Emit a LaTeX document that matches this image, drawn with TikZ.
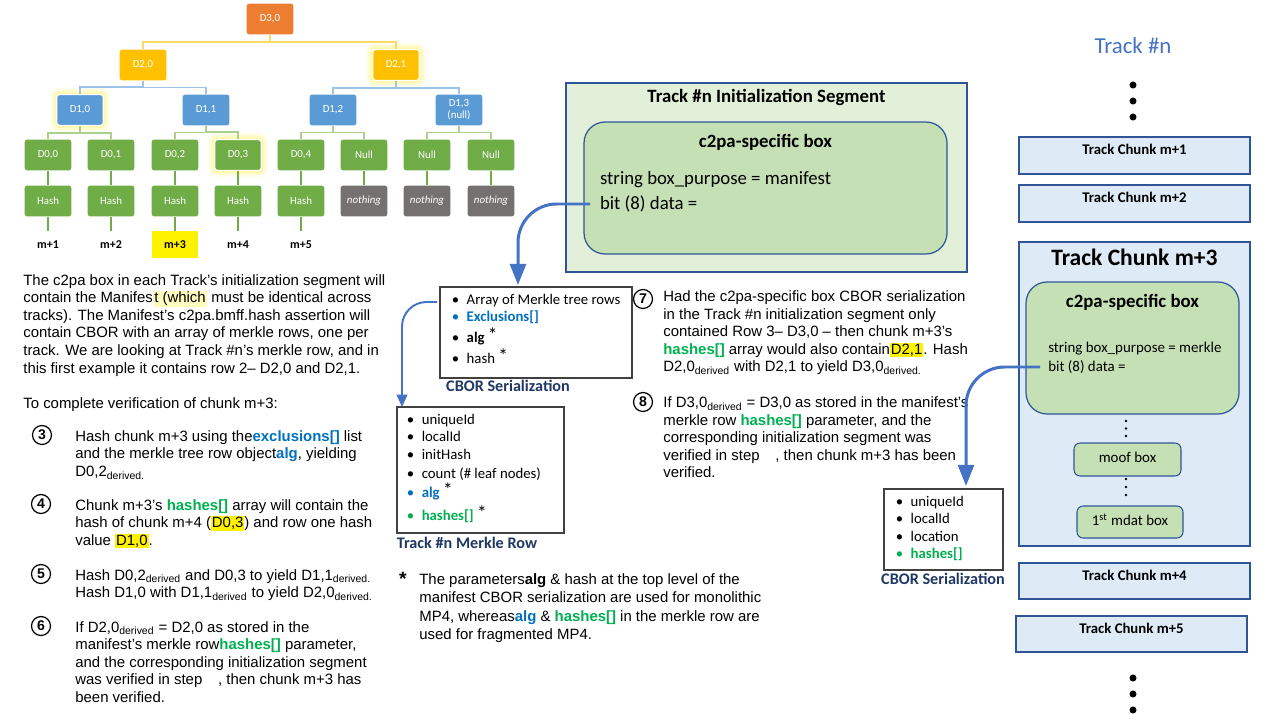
\documentclass[tikz,border=0pt]{standalone}
\usepackage{fontspec}
\setmainfont{Carlito}
\newfontfamily\arialf{Liberation Sans}
\usetikzlibrary{positioning,calc,fit,arrows.meta}

\definecolor{treeorange}{HTML}{ED7D31}
\definecolor{treegold}{HTML}{FFC000}
\definecolor{treeblue}{HTML}{5B9BD5}
\definecolor{treegreen}{HTML}{70AD47}
\definecolor{treegray}{HTML}{767171}
\definecolor{linegold}{HTML}{FFD966}
\definecolor{lineblue}{HTML}{9DC3E6}
\definecolor{linegreen}{HTML}{A9D18E}
\definecolor{segfill}{HTML}{E2F0D9}
\definecolor{boxfill}{HTML}{C5E0B4}
\definecolor{chunkfill}{HTML}{DEEBF7}
\definecolor{edgeblue}{HTML}{2F5597}
\definecolor{arrowblue}{HTML}{4472C4}
\definecolor{textblue}{HTML}{0070C0}
\definecolor{textgreen}{HTML}{00B050}
\definecolor{navy}{HTML}{203864}

\newcommand\hlyel[1]{{\setlength{\fboxsep}{0.5pt}\colorbox{yellow}{#1}}}
\newcommand\hlsoft[1]{{\setlength{\fboxsep}{0.8pt}\colorbox{yellow!25}{#1}}}
\newcommand\drv[1]{\textsubscript{derived#1}}
\newcommand\blu[1]{\textcolor{textblue}{\textbf{#1}}}
\newcommand\grn[1]{\textcolor{textgreen}{\textbf{#1}}}
\newcommand\itm[2][black]{\makebox[8.5pt][l]{\textcolor{#1}{\textbullet}}#2}
\newcommand\starmark{\raisebox{0.5pt}{\fontsize{11}{10}\selectfont *}}

\tikzset{
  tbox/.style={rounded corners=1.5pt, minimum width=26.6pt, minimum height=17.6pt,
    inner sep=0.5pt, text=white, align=center, font=\fontsize{6.2}{6.8}\selectfont},
  orangebox/.style={tbox, fill=treeorange},
  goldbox/.style={tbox, fill=treegold},
  bluebox/.style={tbox, fill=treeblue},
  greenbox/.style={tbox, fill=treegreen},
  graybox/.style={tbox, fill=treegray, font=\itshape\fontsize{6.2}{6.8}\selectfont},
  glow/.style={preaction={draw=yellow, line width=8pt, opacity=0.08},
    preaction={draw=yellow, line width=5pt, opacity=0.12},
    preaction={draw=yellow, line width=2.5pt, opacity=0.2}, draw=white, line width=0.8pt},
  branch/.style={to path={(\tikztostart) |- ($(\tikztostart)!0.5!(\tikztotarget)$) -| (\tikztotarget)}},
  goldline/.style={draw=linegold, line width=1pt},
  blueline/.style={draw=lineblue, line width=1pt},
  greenline/.style={draw=linegreen, line width=1pt},
  stem/.style={draw=treegreen, line width=0.8pt},
  mlabel/.style={minimum width=26.6pt, minimum height=15.3pt, inner sep=0pt,
    font=\bfseries\fontsize{6.8}{7}\selectfont},
  para/.style={anchor=north west, align=left, inner sep=0pt, font=\arialf\fontsize{8.5}{10}\selectfont},
  stepnum/.style={circle, draw, line width=0.7pt, minimum size=10.8pt, inner sep=0pt,
    font=\arialf\bfseries\fontsize{8}{8}\selectfont},
  listbox/.style={draw=black!75, line width=0.6pt, inner sep=0pt},
  listtext/.style={anchor=north west, align=left, inner sep=0pt, font=\fontsize{8.4}{10}\selectfont},
  caption/.style={font=\bfseries\fontsize{9.2}{10}\selectfont, text=navy, inner sep=0pt},
  segment/.style={fill=segfill, draw=edgeblue, line width=0.7pt, inner sep=0pt},
  c2pabox/.style={fill=boxfill, draw=edgeblue, line width=0.7pt, inner sep=0pt, rounded corners=12pt},
  chunk/.style={fill=chunkfill, draw=edgeblue, line width=0.8pt, inner sep=0pt},
  smallbox/.style={fill=boxfill, draw=edgeblue, line width=0.6pt, inner sep=0pt, rounded corners=3.5pt},
  boxtitle/.style={font=\bfseries\fontsize{10.7}{12}\selectfont, inner sep=0pt},
  chunktitle/.style={font=\bfseries\fontsize{8.4}{10}\selectfont, inner sep=0pt},
  codetext/.style={anchor=west, inner xsep=5.5pt, inner ysep=0pt, font=\fontsize{10.7}{12}\selectfont},
  codesmall/.style={anchor=west, inner xsep=4.5pt, inner ysep=0pt, font=\fontsize{8.5}{10}\selectfont},
  flow/.style={draw=arrowblue, line width=1.7pt, -{Triangle[width=9pt,length=12pt]}},
}

\begin{document}
\begin{tikzpicture}[x=0.02cm, y=-0.02cm]
\fill[white] (0,0) rectangle (1280,720);
\useasboundingbox (0,0) rectangle (1280,720);

% merkle tree
\node[orangebox] (d30) at (270,19) {D3,0};
\node[goldbox] (d20) at (143,65) {D2,0};
\node[goldbox, glow] (d21) at (396,65) {D2,1};
\node[bluebox, glow] (d10) at (80,110) {D1,0};
\node[bluebox] (d11) at (206,110) {D1,1};
\node[bluebox] (d12) at (333,110) {D1,2};
\node[bluebox] (d13) at (459,110) {D1,3\\(null)};
\node[greenbox] (d00) at (48,155) {D0,0};
\node[greenbox] (d01) at (111,155) {D0,1};
\node[greenbox] (d02) at (175,155) {D0,2};
\node[greenbox, glow] (d03) at (238,155) {D0,3};
\node[greenbox] (d04) at (301,155) {D0,4};
\node[greenbox] (n05) at (364,155) {Null};
\node[greenbox] (n06) at (427,155) {Null};
\node[greenbox] (n07) at (491,155) {Null};
\node[greenbox] (h00) at (48,201) {Hash};
\node[greenbox] (h01) at (111,201) {Hash};
\node[greenbox] (h02) at (175,201) {Hash};
\node[greenbox] (h03) at (238,201) {Hash};
\node[greenbox] (h04) at (301,201) {Hash};
\node[graybox] (g05) at (364,201) {nothing};
\node[graybox] (g06) at (427,201) {nothing};
\node[graybox] (g07) at (491,201) {nothing};
\node[mlabel] (m1) at (48,244.5) {m+1};
\node[mlabel] (m2) at (111,244.5) {m+2};
\node[mlabel, fill=yellow] (m3) at (175,244.5) {m+3};
\node[mlabel] (m4) at (238,244.5) {m+4};
\node[mlabel] (m5) at (301,244.5) {m+5};

\draw[goldline] (d30.south) to[branch] (d20.north);
\draw[goldline] (d30.south) to[branch] (d21.north);
\draw[blueline] (d20.south) to[branch] (d10.north);
\draw[blueline] (d20.south) to[branch] (d11.north);
\draw[blueline] (d21.south) to[branch] (d12.north);
\draw[blueline] (d21.south) to[branch] (d13.north);
\draw[greenline] (d10.south) to[branch] (d00.north);
\draw[greenline] (d10.south) to[branch] (d01.north);
\draw[greenline] (d11.south) to[branch] (d02.north);
\draw[greenline] (d11.south) to[branch] (d03.north);
\draw[greenline] (d12.south) to[branch] (d04.north);
\draw[greenline] (d12.south) to[branch] (n05.north);
\draw[greenline] (d13.south) to[branch] (n06.north);
\draw[greenline] (d13.south) to[branch] (n07.north);
\draw[stem] (d00) -- (h00);
\draw[stem] (d01) -- (h01);
\draw[stem] (d02) -- (h02);
\draw[stem] (d03) -- (h03);
\draw[stem] (d04) -- (h04);
\draw[stem] (n05) -- (g05);
\draw[stem] (n06) -- (g06);
\draw[stem] (n07) -- (g07);
\draw[stem] (h00) -- (m1);
\draw[stem] (h01) -- (m2);
\draw[stem] (h02) -- (m3);
\draw[stem] (h03) -- (m4);
\draw[stem] (h04) -- (m5);

% left column text
\node[para] (intro) at (23,274) {The c2pa box in each Track’s initialization segment will\\
contain the Manifes\hlsoft{t (which} must be identical across\\
tracks). The Manifest’s c2pa.bmff.hash assertion will\\
contain CBOR with an array of merkle rows, one per\\
track. We are looking at Track \#n’s merkle row, and in\\
this first example it contains row 2– D2,0 and D2,1.};
\node[para] (todo) at (23,397) {To complete verification of chunk m+3:};

\node[stepnum] (s3) at (42,435) {3};
\node[para] (t3) at (75,430) {Hash chunk m+3 using the\blu{exclusions[]} list\\
and the merkle tree row object\blu{alg}, yielding\\
D0,2\drv{.}};
\node[stepnum] (s4) at (41,504) {4};
\node[para] (t4) at (75,499) {Chunk m+3’s \grn{hashes[]} array will contain the\\
hash of chunk m+4 (\hlyel{D0,3}) and row one hash\\
value \hlyel{D1,0}.};
\node[stepnum] (s5) at (41,574) {5};
\node[para] (t5) at (75,569) {Hash D0,2\drv{} and D0,3 to yield D1,1\drv{.}\\
Hash D1,0 with D1,1\drv{} to yield D2,0\drv{.}};
\node[stepnum] (s6) at (41,626) {6};
\node[para] (t6) at (75,621) {If D2,0\drv{} = D2,0 as stored in the\\
manifest’s merkle row\grn{hashes[]} parameter,\\
and the corresponding initialization segment\\
was verified in step\hspace{9pt}, then chunk m+3 has\\
been verified.};

% middle column text
\node[stepnum] (s7) at (643,299) {7};
\node[para] (t7) at (663,290.5) {Had the c2pa-specific box CBOR serialization\\
in the Track \#n initialization segment only\\
contained Row 3– D3,0 – then chunk m+3’s\\
\grn{hashes[]} array would also contain\hlyel{D2,1}. Hash\\
D2,0\drv{} with D2,1 to yield D3,0\drv{.}};
\node[stepnum] (s8) at (643,402) {8};
\node[para] (t8) at (663,396.5) {If D3,0\drv{} = D3,0 as stored in the manifest’s\\
merkle row \grn{hashes[]} parameter, and the\\
corresponding initialization segment was\\
verified in step\hspace{9pt}, then chunk m+3 has been\\
verified.};

\node[font=\arialf\bfseries\fontsize{11}{11}\selectfont, inner sep=0pt] (star) at (403,579) {*};
\node[para, font=\arialf\fontsize{8.5}{10.4}\selectfont] (note) at (419,573.5) {The parameters\textbf{alg} \& hash at the top level of the\\
manifest CBOR serialization are used for monolithic\\
MP4, whereas\blu{alg} \& \grn{hashes[]} in the merkle row are\\
used for fragmented MP4.};

% CBOR lists
\node[listbox, fit={(440,287) (632,378)}] (cbor1) {};
\node[listtext] (cbor1list) at ([xshift=6.8pt,yshift=-4pt]cbor1.north west) {\itm{Array of Merkle tree rows}\\
\itm[textblue]{\blu{Exclusions[]}}\\[2pt]
\itm{\textbf{alg} \starmark}\\[2pt]
\itm{hash \starmark}};
\node[caption] (cbor1cap) at (508,386) {CBOR Serialization};

\node[listbox, fit={(397,407) (564,533)}] (mrow) {};
\node[listtext] (mrowlist) at ([xshift=5.7pt,yshift=-4pt]mrow.north west) {\itm{uniqueId}\\
\itm{localId}\\[0.3pt]
\itm{initHash}\\[0.8pt]
\itm{count (\# leaf nodes)}\\[0.8pt]
\itm[textblue]{\blu{alg} \starmark}\\[3pt]
\itm[textgreen]{\grn{hashes[]} \starmark}};
\node[caption] (mrowcap) at (467,543) {Track \#n Merkle Row};

\node[listbox, fit={(884,489) (1003,570)}] (cbor3) {};
\node[listtext] (cbor3list) at ([xshift=6.8pt,yshift=-4pt]cbor3.north west) {\itm{uniqueId}\\
\itm{localId}\\
\itm{location}\\
\itm[textgreen]{\grn{hashes[]}}};
\node[caption] (cbor3cap) at (943,579) {CBOR Serialization};

% initialization segment
\node[segment, fit={(566,83) (967,272)}] (seg) {};
\node[boxtitle, below=4pt of seg.north] (segtitle) {Track \#n Initialization Segment};
\node[c2pabox, fit={(584,122) (947,254)}] (c2pa1) {};
\node[boxtitle, below=7pt of c2pa1.north] (c2pa1title) {c2pa-specific box};
\node[codetext] (purpose1) at (590,180) {string box\_purpose = manifest};
\node[codetext] (data1) at (590,204) {bit (8) data =};

% track column
\node[font=\fontsize{13}{14}\selectfont, text=arrowblue, inner sep=0pt] (trackn) at (1133,46) {Track \#n};
\fill (1133,85) circle[radius=2pt];
\fill (1133,101) circle[radius=2pt];
\fill (1133,117) circle[radius=2pt];

\node[chunk, fit={(1019,137) (1250,174)}] (ch1) {};
\node[chunktitle, below=4.5pt of ch1.north] (ch1title) {Track Chunk m+1};
\node[chunk, fit={(1019,185) (1250,222)}] (ch2) {};
\node[chunktitle, below=4.5pt of ch2.north] (ch2title) {Track Chunk m+2};

\node[chunk, fit={(1019,242) (1250,546)}] (ch3) {};
\node[font=\bfseries\fontsize{13.4}{15}\selectfont, inner sep=0pt, below=4pt of ch3.north] (ch3title) {Track Chunk m+3};
\node[c2pabox, fit={(1026,282) (1239,414)}] (c2pa2) {};
\node[boxtitle, below=7pt of c2pa2.north] (c2pa2title) {c2pa-specific box};
\node[codesmall] (purpose2) at (1040,349) {string box\_purpose = merkle};
\node[codesmall] (data2) at (1040,367) {bit (8) data =};
\fill (1126,421) circle[radius=0.8pt];
\fill (1126,428.5) circle[radius=0.8pt];
\fill (1126,436) circle[radius=0.8pt];
\node[smallbox, fit={(1074,443) (1181,476)}] (moof) {};
\node[font=\fontsize{8.5}{10}\selectfont, inner sep=0pt] (mooftext) at (1127.5,457) {moof box};
\fill (1126,479) circle[radius=0.8pt];
\fill (1126,487) circle[radius=0.8pt];
\fill (1126,495) circle[radius=0.8pt];
\node[smallbox, fit={(1077,506) (1183,538)}] (mdat) {};
\node[font=\fontsize{8.5}{10}\selectfont, inner sep=0pt] (mdattext) at (1130,520) {1\textsuperscript{st} mdat box};

\node[chunk, fit={(1019,563) (1250,599)}] (ch4) {};
\node[chunktitle, below=4.5pt of ch4.north] (ch4title) {Track Chunk m+4};
\node[chunk, fit={(1016,616) (1247,652)}] (ch5) {};
\node[chunktitle, below=4.5pt of ch5.north] (ch5title) {Track Chunk m+5};
\fill (1133,678) circle[radius=2pt];
\fill (1133,694) circle[radius=2pt];
\fill (1133,710) circle[radius=2pt];

% arrows
\coordinate (tip1) at (518,285);
\coordinate (a2from) at (437,302);
\coordinate (tip2) at (402,407);
\coordinate (tip3) at (966,486);
\draw[flow, rounded corners=22pt] (data1.west) -| (tip1);
\draw[flow, line width=1.1pt, -{Triangle[width=6pt,length=7pt]}, rounded corners=14pt] (a2from) -| (tip2);
\draw[flow, rounded corners=22pt] (data2.west) -| (tip3);
\end{tikzpicture}
\end{document}
